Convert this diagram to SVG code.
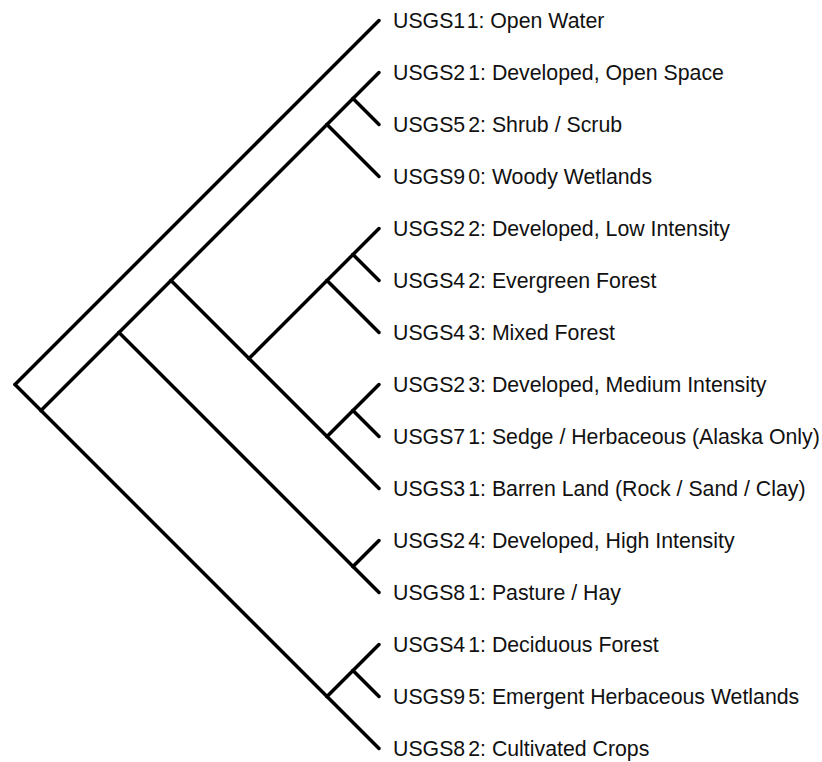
<svg xmlns="http://www.w3.org/2000/svg" width="822" height="762" viewBox="0 0 822 762">
<style>
.e{stroke:#000;stroke-width:3.5;stroke-linecap:round;fill:none}
.l{font-family:"Liberation Sans",Arial,sans-serif;font-size:21.3px;fill:#111}
</style>
<rect width="822" height="762" fill="#fff"/>
<g id="connectors">
<line class="e" x1="15" y1="384.5" x2="379" y2="20.5"/>
<line class="e" x1="15" y1="384.5" x2="41" y2="410.5"/>
<line class="e" x1="41" y1="410.5" x2="119" y2="332.5"/>
<line class="e" x1="41" y1="410.5" x2="327" y2="696.5"/>
<line class="e" x1="119" y1="332.5" x2="171" y2="280.5"/>
<line class="e" x1="119" y1="332.5" x2="353" y2="566.5"/>
<line class="e" x1="171" y1="280.5" x2="327" y2="124.5"/>
<line class="e" x1="171" y1="280.5" x2="249" y2="358.5"/>
<line class="e" x1="327" y1="124.5" x2="353" y2="98.5"/>
<line class="e" x1="327" y1="124.5" x2="379" y2="176.5"/>
<line class="e" x1="353" y1="98.5" x2="379" y2="72.5"/>
<line class="e" x1="353" y1="98.5" x2="379" y2="124.5"/>
<line class="e" x1="249" y1="358.5" x2="327" y2="280.5"/>
<line class="e" x1="249" y1="358.5" x2="327" y2="436.5"/>
<line class="e" x1="327" y1="280.5" x2="353" y2="254.5"/>
<line class="e" x1="327" y1="280.5" x2="379" y2="332.5"/>
<line class="e" x1="353" y1="254.5" x2="379" y2="228.5"/>
<line class="e" x1="353" y1="254.5" x2="379" y2="280.5"/>
<line class="e" x1="327" y1="436.5" x2="353" y2="410.5"/>
<line class="e" x1="327" y1="436.5" x2="379" y2="488.5"/>
<line class="e" x1="353" y1="410.5" x2="379" y2="384.5"/>
<line class="e" x1="353" y1="410.5" x2="379" y2="436.5"/>
<line class="e" x1="353" y1="566.5" x2="379" y2="540.5"/>
<line class="e" x1="353" y1="566.5" x2="379" y2="592.5"/>
<line class="e" x1="327" y1="696.5" x2="353" y2="670.5"/>
<line class="e" x1="327" y1="696.5" x2="379" y2="748.5"/>
<line class="e" x1="353" y1="670.5" x2="379" y2="644.5"/>
<line class="e" x1="353" y1="670.5" x2="379" y2="696.5"/>
</g>
<g id="leaf-11"><text class="l" x="393" y="28">USGS1<tspan dx="3">1: Open Water</tspan></text></g>
<g id="leaf-21"><text class="l" x="393" y="80">USGS2<tspan dx="3">1: Developed, Open Space</tspan></text></g>
<g id="leaf-52"><text class="l" x="393" y="132">USGS5<tspan dx="3">2: Shrub / Scrub</tspan></text></g>
<g id="leaf-90"><text class="l" x="393" y="184">USGS9<tspan dx="3">0: Woody Wetlands</tspan></text></g>
<g id="leaf-22"><text class="l" x="393" y="236">USGS2<tspan dx="3">2: Developed, Low Intensity</tspan></text></g>
<g id="leaf-42"><text class="l" x="393" y="288">USGS4<tspan dx="3">2: Evergreen Forest</tspan></text></g>
<g id="leaf-43"><text class="l" x="393" y="340">USGS4<tspan dx="3">3: Mixed Forest</tspan></text></g>
<g id="leaf-23"><text class="l" x="393" y="392">USGS2<tspan dx="3">3: Developed, Medium Intensity</tspan></text></g>
<g id="leaf-71"><text class="l" x="393" y="444">USGS7<tspan dx="3">1: Sedge / Herbaceous (Alaska Only)</tspan></text></g>
<g id="leaf-31"><text class="l" x="393" y="496">USGS3<tspan dx="3">1: Barren Land (Rock / Sand / Clay)</tspan></text></g>
<g id="leaf-24"><text class="l" x="393" y="548">USGS2<tspan dx="3">4: Developed, High Intensity</tspan></text></g>
<g id="leaf-81"><text class="l" x="393" y="600">USGS8<tspan dx="3">1: Pasture / Hay</tspan></text></g>
<g id="leaf-41"><text class="l" x="393" y="652">USGS4<tspan dx="3">1: Deciduous Forest</tspan></text></g>
<g id="leaf-95"><text class="l" x="393" y="704">USGS9<tspan dx="3">5: Emergent Herbaceous Wetlands</tspan></text></g>
<g id="leaf-82"><text class="l" x="393" y="756">USGS8<tspan dx="3">2: Cultivated Crops</tspan></text></g>
</svg>
